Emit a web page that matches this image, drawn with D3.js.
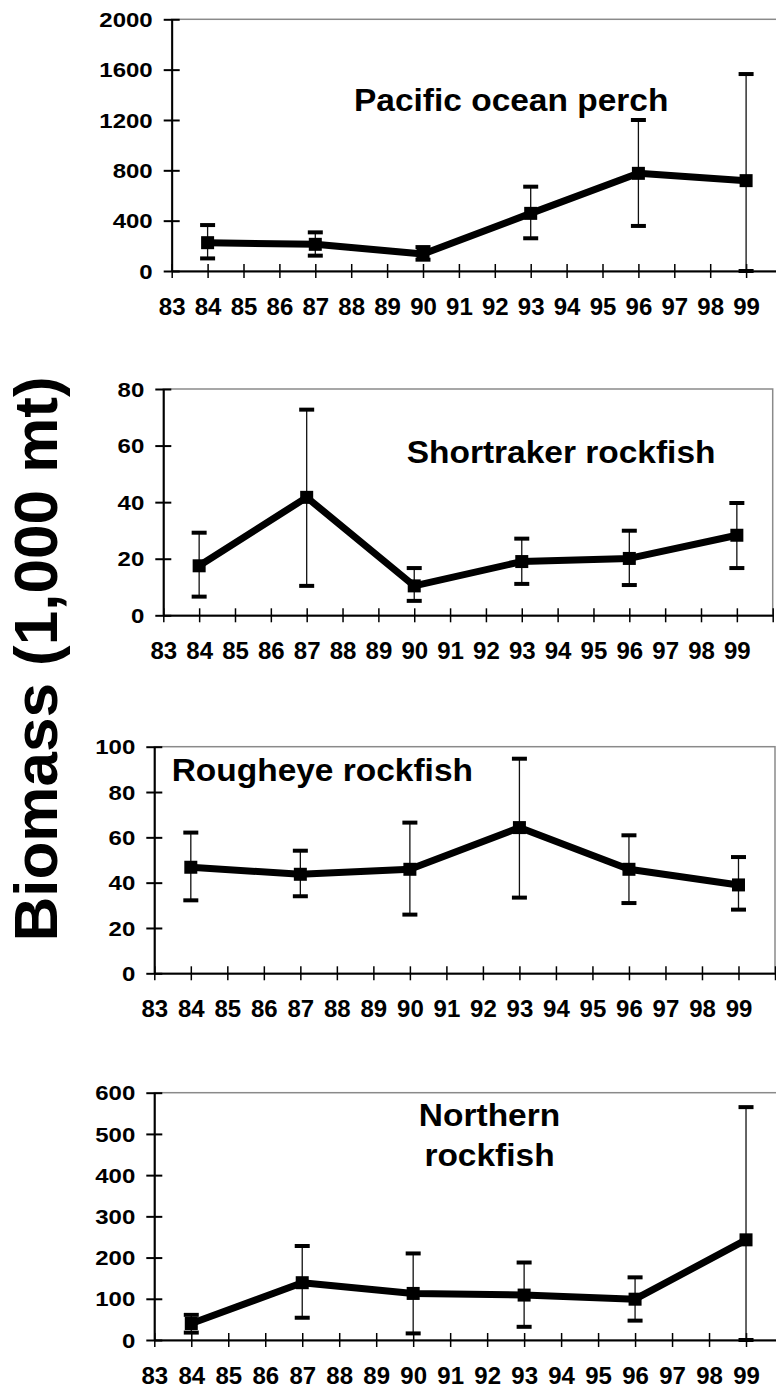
<!DOCTYPE html>
<html>
<head>
<meta charset="utf-8">
<script src="https://cdn.jsdelivr.net/npm/d3@7"></script>
<style>
  body { margin: 0; background: #fff; }
  svg { display: block; }
  text { font-family: "Liberation Sans", Arial, sans-serif; font-weight: bold; fill: #000; }
</style>
</head>
<body>
<script>
// x axis labels (survey years, 19xx)
const yearTicks = [83, 84, 85, 86, 87, 88, 89, 90, 91, 92, 93, 94, 95, 96, 97, 98, 99];
const surveyYears = [84, 87, 90, 93, 96, 99];

// Pacific ocean perch
const popTicks = [0, 400, 800, 1200, 1600, 2000];
const popBiomass = [225, 212, 135, 458, 776, 718];
const popLow = [100, 122, 90, 260, 358, 0];
const popHigh = [365, 307, 190, 670, 1200, 1565];

// Shortraker rockfish
const srTicks = [0, 20, 40, 60, 80];
const srBiomass = [17.5, 41.7, 10.4, 19.0, 20.1, 28.3];
const srLow = [6.6, 10.4, 5.1, 11.1, 10.7, 16.7];
const srHigh = [29.2, 72.7, 16.7, 27.1, 29.9, 39.7];

// Rougheye rockfish
const reTicks = [0, 20, 40, 60, 80, 100];
const reBiomass = [46.8, 43.7, 45.9, 64.3, 45.9, 39.0];
const reLow = [32.2, 34.0, 25.9, 33.4, 31.0, 28.1];
const reHigh = [62.1, 54.1, 66.5, 94.7, 60.9, 51.3];

// Northern rockfish
const nrTicks = [0, 100, 200, 300, 400, 500, 600];
const nrBiomass = [40, 139, 113, 109, 99, 243];
const nrLow = [18, 54, 16, 32, 47, 0];
const nrHigh = [61, 228, 210, 188, 152, 565];

const yTitle = "Biomass (1,000 mt)";

const W = 776, H = 1390;
const svg = d3.select("body").append("svg").attr("width", W).attr("height", H);

// panel layout: left/right = x of 83 and 100, top/bottom = y of max and 0
const panels = [
  { title: ["Pacific ocean perch"], tx: 354, ty: 111, anchor: "start",
    left: 171.7, right: 782, top: 19.3, bottom: 271, max: 2000,
    ticks: popTicks, v: popBiomass, lo: popLow, hi: popHigh },
  { title: ["Shortraker rockfish"], tx: 406.7, ty: 462.7, anchor: "start",
    left: 163.3, right: 772.7, top: 389, bottom: 615.3, max: 80,
    ticks: srTicks, v: srBiomass, lo: srLow, hi: srHigh },
  { title: ["Rougheye rockfish"], tx: 171.7, ty: 780.7, anchor: "start",
    left: 154.3, right: 775, top: 746.7, bottom: 973.3, max: 100,
    ticks: reTicks, v: reBiomass, lo: reLow, hi: reHigh },
  { title: ["Northern", "rockfish"], tx: 489.5, ty: 1125.7, anchor: "middle",
    left: 154.3, right: 783, top: 1092.7, bottom: 1340, max: 600,
    ticks: nrTicks, v: nrBiomass, lo: nrLow, hi: nrHigh }
];

const stretch = 1.2; // tick numbers are drawn wide in the original

panels.forEach(function (p) {
  var x = d3.scaleLinear().domain([83, 100]).range([p.left, p.right]);
  var y = d3.scaleLinear().domain([0, p.max]).range([p.bottom, p.top]);
  var g = svg.append("g");

  // plot area frame (top + right in grey)
  g.append("rect")
    .attr("x", x(83)).attr("y", y(p.max))
    .attr("width", x(100) - x(83)).attr("height", y(0) - y(p.max))
    .attr("fill", "none").attr("stroke", "#8a8a8a").attr("stroke-width", 1.5);

  // y axis
  var ya = g.append("g")
    .attr("transform", "translate(" + x(83) + ",0)")
    .call(d3.axisLeft(y).tickValues(p.ticks).tickSizeOuter(0).tickFormat(d3.format("d")));
  ya.select(".domain").attr("stroke", "#000").attr("stroke-width", 2);
  ya.selectAll(".tick line").attr("x1", -8).attr("x2", 8).attr("stroke", "#000").attr("stroke-width", 2);
  ya.selectAll(".tick text")
    .attr("x", -19 / stretch).attr("dy", "0.36em")
    .attr("transform", "scale(" + stretch + ",1)")
    .style("font-size", "20px");

  // x axis
  var xa = g.append("g")
    .attr("transform", "translate(0," + y(0) + ")")
    .call(d3.axisBottom(x).tickValues(yearTicks.concat([100])).tickSizeOuter(0)
      .tickFormat(function (d) { return d === 100 ? "" : d; }));
  xa.select(".domain").attr("stroke", "#000").attr("stroke-width", 2);
  xa.selectAll(".tick line").attr("y1", -7).attr("y2", 7).attr("stroke", "#000").attr("stroke-width", 1.5);
  xa.selectAll(".tick text").attr("y", 44).attr("dy", 0).style("font-size", "24px");

  var pts = surveyYears.map(function (yr, i) {
    return { yr: yr, v: p.v[i], lo: p.lo[i], hi: p.hi[i] };
  });

  // error bars
  var eb = g.append("g");
  eb.selectAll("line.bar").data(pts).enter().append("line")
    .attr("x1", d => x(d.yr)).attr("x2", d => x(d.yr))
    .attr("y1", d => y(d.lo)).attr("y2", d => y(d.hi))
    .attr("stroke", "#111").attr("stroke-width", 1.3);
  eb.selectAll("line.cap").data(pts.flatMap(d => [{ yr: d.yr, c: d.lo }, { yr: d.yr, c: d.hi }]))
    .enter().append("line")
    .attr("x1", d => x(d.yr) - 7.5).attr("x2", d => x(d.yr) + 7.5)
    .attr("y1", d => y(d.c)).attr("y2", d => y(d.c))
    .attr("stroke", "#000").attr("stroke-width", 4);

  // biomass line
  g.append("path").datum(pts)
    .attr("d", d3.line().x(d => x(d.yr)).y(d => y(d.v)))
    .attr("fill", "none").attr("stroke", "#000").attr("stroke-width", 7)
    .attr("stroke-linejoin", "round");

  g.selectAll("rect.mk").data(pts).enter().append("rect")
    .attr("x", d => x(d.yr) - 6.5).attr("y", d => y(d.v) - 6.5)
    .attr("width", 13).attr("height", 13).attr("fill", "#000");

  // species title
  var t = g.append("text")
    .attr("transform", "translate(" + p.tx + "," + p.ty + ") scale(1.08,1)")
    .attr("text-anchor", p.anchor)
    .style("font-size", "31px");
  t.selectAll("tspan").data(p.title).enter().append("tspan")
    .attr("x", 0).attr("y", (d, i) => i * 40.3)
    .text(d => d);
});

// shared y title
svg.append("text")
  .attr("transform", "translate(57,659) rotate(-90)")
  .attr("text-anchor", "middle")
  .style("font-size", "62px")
  .text(yTitle);
</script>
</body>
</html>
